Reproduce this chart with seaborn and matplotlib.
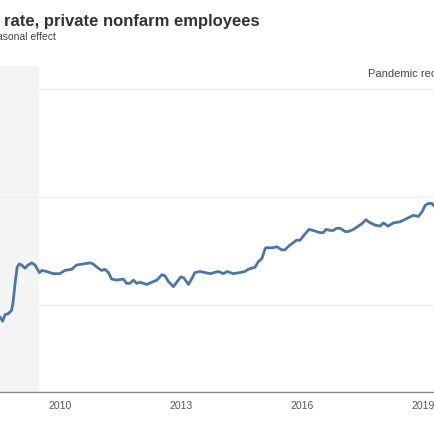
import pandas as pd
import matplotlib
matplotlib.use("Agg")
import matplotlib.pyplot as plt
import seaborn as sns

# Traced series (decimal year, value); the crop shows no y labels, gridlines sit at 2, 3, 4
years = [2008.51, 2008.58, 2008.64, 2008.72, 2008.80, 2008.84, 2008.89, 2008.94, 2008.99,
         2009.05, 2009.13, 2009.21, 2009.30, 2009.38, 2009.49, 2009.55, 2009.67, 2009.83,
         2010.00, 2010.12, 2010.29, 2010.41, 2010.58, 2010.74, 2010.82, 2010.95, 2011.03,
         2011.11, 2011.20, 2011.28, 2011.40, 2011.57, 2011.65, 2011.73, 2011.82, 2011.90,
         2011.98, 2012.15, 2012.27, 2012.40, 2012.52, 2012.60, 2012.68, 2012.81, 2012.89,
         2012.99, 2013.07, 2013.18, 2013.26, 2013.34, 2013.47, 2013.59, 2013.72, 2013.92,
         2014.05, 2014.14, 2014.29, 2014.46, 2014.58, 2014.66, 2014.83, 2014.91, 2015.00,
         2015.08, 2015.10, 2015.28, 2015.37, 2015.49, 2015.57, 2015.68, 2015.86, 2015.95,
         2016.03, 2016.17, 2016.27, 2016.44, 2016.52, 2016.59, 2016.69, 2016.77, 2016.85,
         2016.94, 2017.06, 2017.14, 2017.27, 2017.35, 2017.47, 2017.58, 2017.64, 2017.80,
         2017.93, 2018.01, 2018.13, 2018.26, 2018.42, 2018.59, 2018.75, 2018.88, 2018.98,
         2019.04, 2019.12, 2019.21, 2019.29, 2019.35]
values = [1.89, 1.85, 1.91, 1.92, 1.95, 2.03, 2.21, 2.35, 2.38,
          2.37, 2.34, 2.37, 2.39, 2.37, 2.30, 2.32, 2.31, 2.29,
          2.29, 2.32, 2.33, 2.37, 2.38, 2.39, 2.38, 2.34, 2.32,
          2.33, 2.30, 2.24, 2.23, 2.24, 2.20, 2.20, 2.23, 2.20,
          2.21, 2.19, 2.21, 2.23, 2.28, 2.27, 2.22, 2.17, 2.21,
          2.26, 2.25, 2.19, 2.24, 2.30, 2.31, 2.30, 2.29, 2.31,
          2.29, 2.31, 2.29, 2.30, 2.31, 2.33, 2.35, 2.40, 2.43,
          2.52, 2.53, 2.53, 2.54, 2.51, 2.51, 2.55, 2.60, 2.60,
          2.64, 2.70, 2.69, 2.67, 2.67, 2.70, 2.69, 2.69, 2.71,
          2.71, 2.68, 2.68, 2.70, 2.72, 2.75, 2.79, 2.77, 2.74,
          2.73, 2.76, 2.73, 2.76, 2.77, 2.80, 2.83, 2.82, 2.87,
          2.92, 2.94, 2.94, 2.91, 2.89]

title = "rate, private nonfarm employees"
subtitle = "asonal effect"
recession_label = "Pandemic recession"
recession_span = (2007.92, 2009.49)
tick_years = [2010, 2013, 2016, 2019]
grid_values = [2, 3, 4]

df = pd.DataFrame({"year": years, "value": values})

sns.set_style("white")
plt.rcParams["font.family"] = ["Liberation Sans", "DejaVu Sans"]

W = H = 435
fig = plt.figure(figsize=(4.35, 4.35), dpi=100)
ax = fig.add_axes([0, 1 - 393 / H, 1, (393 - 67) / H])

# shaded Great Recession band
ax.axvspan(*recession_span, color="#f4f4f4", lw=0, zorder=0)
sns.lineplot(data=df, x="year", y="value", ax=ax, color="#4a77ab", linewidth=2.0, zorder=3)

ax.set_xlim(2008.514, 2019.289)
ax.set_ylim(1.194, 4.213)
ax.set_yticks(grid_values)
ax.set_yticklabels([])
ax.tick_params(axis="y", length=0)
ax.grid(axis="y", color="#efefef", linewidth=1)
ax.set_axisbelow(True)

ax.set_xticks(tick_years)
ax.set_xticklabels([str(y) for y in tick_years])
ax.set_xticks(range(2009, 2020), minor=True)
ax.tick_params(axis="x", which="both", length=3, color="#999999", direction="out",
               labelsize=7.5, labelcolor="#555555", pad=3)
ax.set_xlabel("")
ax.set_ylabel("")

for side in ["left", "right", "top"]:
    ax.spines[side].set_visible(False)
ax.spines["bottom"].set_color("#888888")
ax.spines["bottom"].set_linewidth(1)

fig.text(368 / W, 1 - 77 / H, recession_label, fontsize=8, color="#444444", va="baseline", ha="left")

fig.text(4 / W, 1 - 26 / H, title, fontsize=12, fontweight="bold", color="#333333", va="baseline")
fig.text(-3.3 / W, 1 - 39.5 / H, subtitle, fontsize=7.5, color="#444444", va="baseline")

fig.savefig("out.png", dpi=100)
